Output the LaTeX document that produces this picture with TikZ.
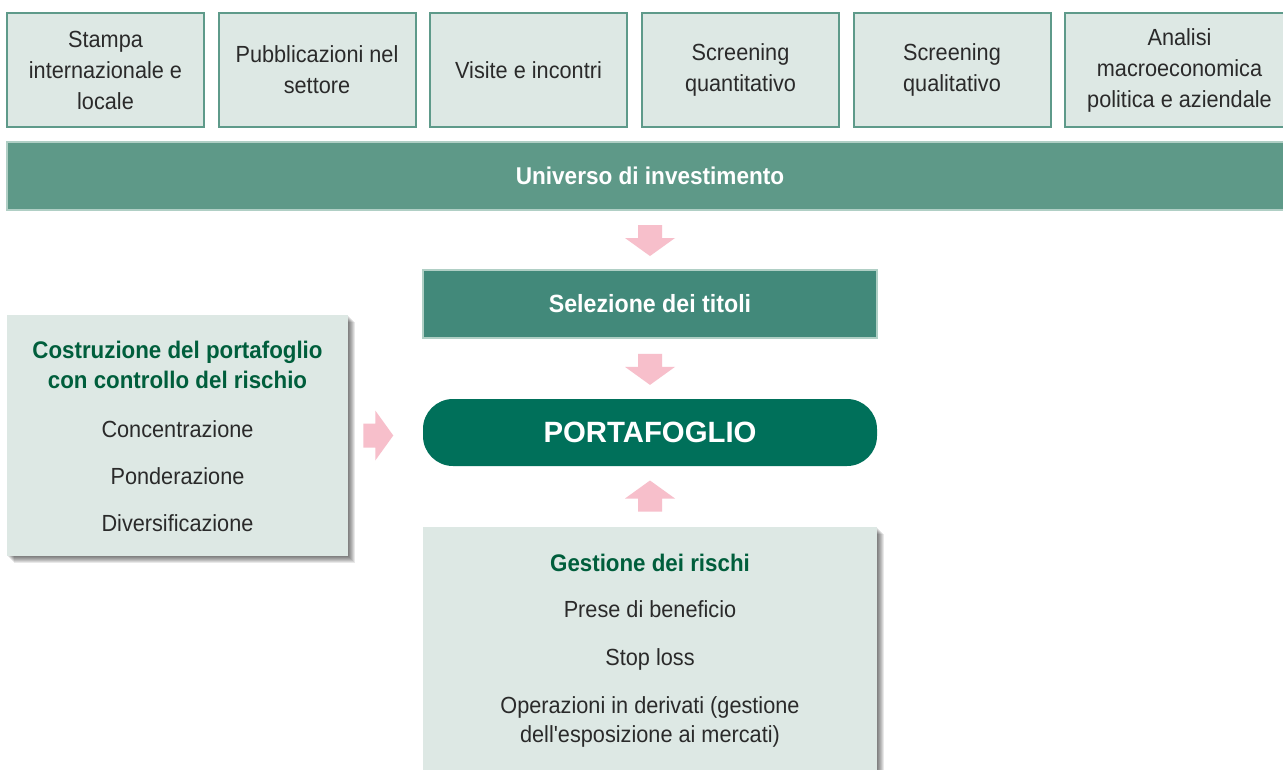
\documentclass[tikz,border=0pt]{standalone}
\usepackage{fontspec}
\setmainfont{Liberation Sans}[FakeStretch=0.93]
\newfontfamily\widefont{Liberation Sans}
\newfontfamily\plainsans{Liberation Sans}[FakeStretch=0.93, Ligatures=TeXOff]
\usetikzlibrary{calc}
\definecolor{boxfill}{HTML}{DDE8E4}
\definecolor{boxedge}{HTML}{5E9A8A}
\definecolor{barfill}{HTML}{5E9988}
\definecolor{baredge}{HTML}{B0CFC5}
\definecolor{selfill}{HTML}{42897A}
\definecolor{portfill}{HTML}{00705A}
\definecolor{pinkarr}{HTML}{F7BFCB}
\definecolor{titlegreen}{HTML}{005E3C}
\definecolor{textgray}{HTML}{2A2A2A}
\tikzset{
  topbox/.style={draw=boxedge, line width=1.5pt, fill=boxfill, inner sep=0pt,
    minimum height=85.5pt, align=center, text=textgray,
    font=\fontsize{17.5}{23.25}\selectfont},
  barbox/.style={draw=baredge, line width=1.5pt, fill=barfill, inner sep=0pt,
    text=white, font=\fontsize{18.2}{22}\selectfont\bfseries},
  selbox/.style={draw=baredge, line width=1.5pt, fill=selfill, inner sep=0pt,
    text=white, font=\fontsize{18.7}{22}\selectfont\bfseries},
  portbox/.style={fill=portfill, rounded corners=22.5pt, inner sep=0pt,
    text=white, font=\widefont\fontsize{22}{26}\selectfont\bfseries},
  sidebox/.style={fill=boxfill, inner sep=0pt},
  txt/.style={anchor=base, inner sep=0pt, text=textgray,
    font=\fontsize{17.5}{21}\selectfont},
  ttl/.style={anchor=base, inner sep=0pt, text=titlegreen,
    font=\fontsize{18}{21}\selectfont\bfseries},
  arrowfill/.style={fill=pinkarr},
  shadowfill/.style={fill=black, opacity=0.09}
}
\begin{document}
\begin{tikzpicture}[x=0.75pt,y=-0.75pt]
\useasboundingbox (0,0) rectangle (1283,769);
\fill[white] (0,0) rectangle (1283,769);

% top source boxes
\node[topbox, minimum width=147.75pt] (t1) at (105.5,70) {Stampa\\internazionale e\\locale};
\node[topbox, minimum width=147.75pt] (t2) at (317,70) {Pubblicazioni nel\\settore};
\node[topbox, minimum width=147.75pt] (t3) at (528.5,70) {Visite e incontri};
\node[topbox, minimum width=147.75pt] (t4) at (740.5,70) {Screening\\quantitativo};
\node[topbox, minimum width=147.75pt] (t5) at (952,70) {Screening\\qualitativo};
\node[topbox, minimum width=171.75pt] (t6) at (1179.5,70) {Analisi\\macroeconomica\\politica e aziendale};

% universe bar
\node[barbox, minimum width=966pt, minimum height=51pt] (univ) at (651,176) {};
\node[inner sep=0pt, text=white, font=\fontsize{18.2}{22}\selectfont\bfseries, anchor=base] (univt) at (650,184) {Universo di investimento};

% selection
\node[selbox, minimum width=340.5pt, minimum height=51pt] (sel) at (650,304) {};
\node[inner sep=0pt, text=white, font=\fontsize{18.7}{22}\selectfont\bfseries, anchor=base] (selt) at (650,312) {Selezione dei titoli};

% portfolio
\node[portbox, minimum width=340.5pt, minimum height=50.25pt] (port) at (650,432.5) {PORTAFOGLIO};

% shadows
\foreach \i in {1,2,...,7}{
  \fill[shadowfill] (7+\i,315+\i) rectangle (348+\i,556+\i);
  \fill[shadowfill] (423+\i,527+\i) rectangle (877+\i,775);
}

% left box
\node[sidebox, minimum width=255.75pt, minimum height=180.75pt] (cost) at (177.5,435.5) {};
\node[ttl] (c1) at (177.5,358) {Costruzione del portafoglio};
\node[ttl] (c2) at (177.5,388) {con controllo del rischio};
\node[txt] (c3) at (177.5,437) {Concentrazione};
\node[txt] (c4) at (177.5,484) {Ponderazione};
\node[txt] (c5) at (177.5,531) {Diversificazione};

% bottom box
\node[sidebox, minimum width=340.5pt, minimum height=186pt] (gest) at (650,651) {};
\node[ttl] (g1) at (650,571) {Gestione dei rischi};
\node[txt] (g2) at (650,617) {Prese di beneficio};
\node[txt] (g3) at (650,665) {Stop loss};
\node[txt] (g4) at (650,713) {Operazioni in derivati (gestione};
\node[txt] (g5) at (650,742) {\plainsans\fontsize{17.5}{21}\selectfont dell'esposizione ai mercati)};

% block arrows
\coordinate (m1) at ($(univ.south -| sel.north)!0.5!(sel.north)$);
\coordinate (m2) at ($(sel.south)!0.5!(port.north)$);
\coordinate (m3) at ($(port.south)!0.5!(gest.north)$);
\fill[arrowfill] (m1) ++(-12,-15) -- ++(24,0) -- ++(0,13) -- ++(13,0) -- ++(-25,18) -- ++(-25,-18) -- ++(13,0) -- cycle;
\fill[arrowfill] (m2) ++(-12,-15) -- ++(24,0) -- ++(0,13) -- ++(13,0) -- ++(-25,18) -- ++(-25,-18) -- ++(13,0) -- cycle;
\fill[arrowfill] (m3) ++(-12,15) -- ++(24,0) -- ++(0,-13) -- ++(13,0) -- ++(-25,-18) -- ++(-25,18) -- ++(13,0) -- cycle;
\fill[arrowfill] (cost.east) ++(15,-12) -- ++(12,0) -- ++(0,-13) -- ++(18,25) -- ++(-18,25) -- ++(0,-13) -- ++(-12,0) -- cycle;
\end{tikzpicture}
\end{document}
